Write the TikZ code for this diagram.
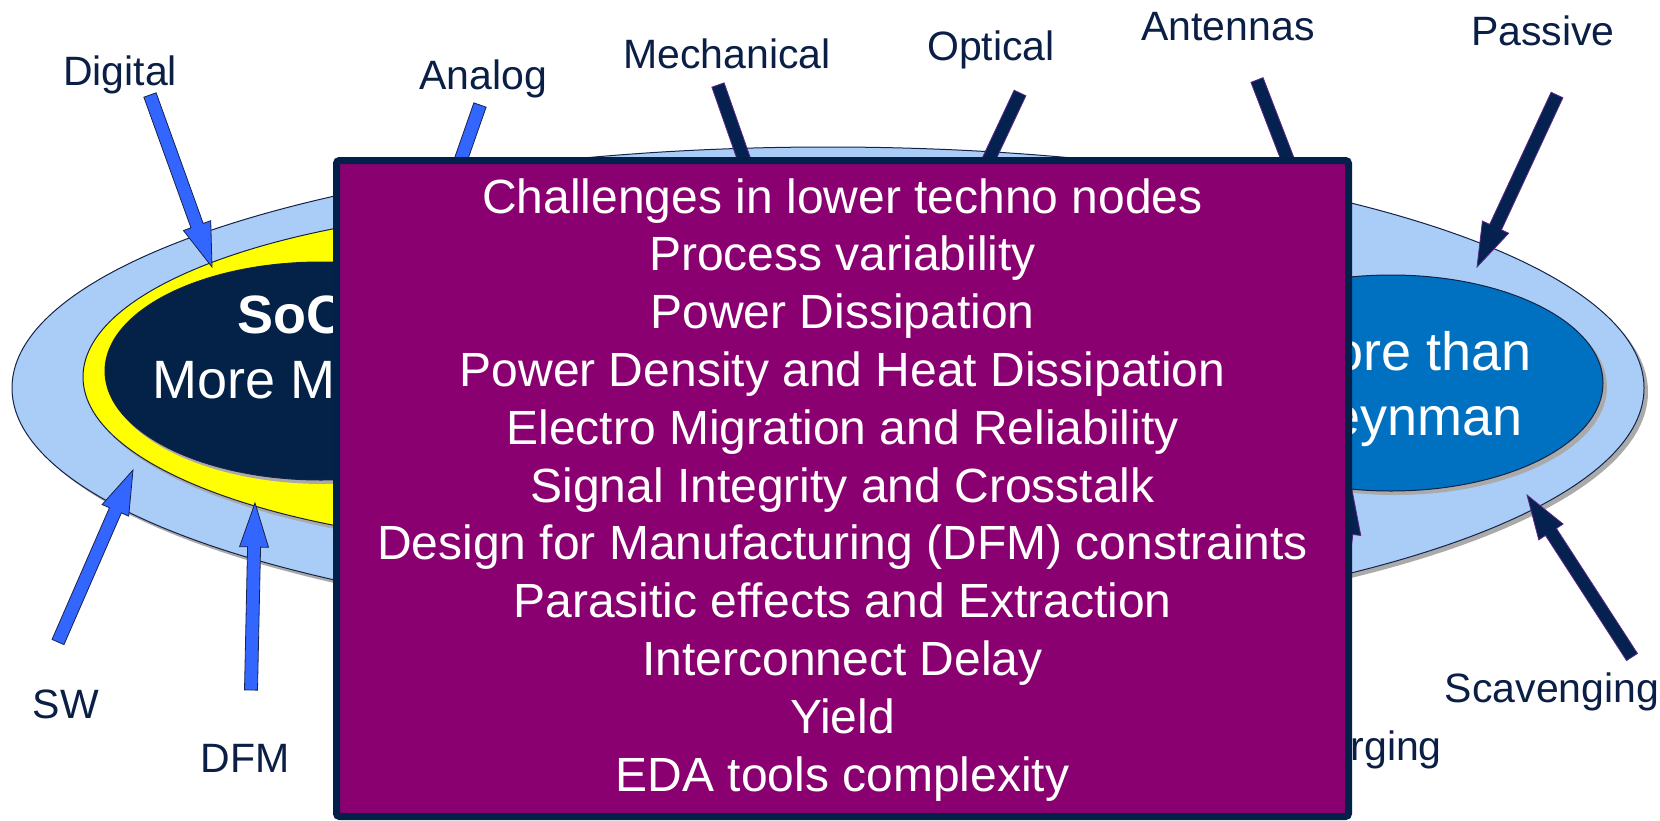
\documentclass[tikz,border=0pt]{standalone}
\usepackage{fontspec}
\setmainfont{Liberation Sans}
\usetikzlibrary{calc,shapes.geometric}
\definecolor{lightblue}{RGB}{170,205,248}
\definecolor{yellowc}{RGB}{255,255,0}
\definecolor{navyc}{RGB}{4,33,72}
\definecolor{midblue}{RGB}{0,112,192}
\definecolor{shadowcol}{RGB}{170,170,170}
\definecolor{edgecol}{RGB}{20,35,70}
\definecolor{boxpurple}{RGB}{139,0,112}
\definecolor{boxedge}{RGB}{2,32,72}
\definecolor{arrblue}{RGB}{51,102,255}
\definecolor{arredge}{RGB}{25,35,75}
\definecolor{arrnavy}{RGB}{4,33,80}
\definecolor{arrpurple}{RGB}{95,40,135}
\definecolor{lblcol}{RGB}{10,30,70}
% fat arrow: style, tail coordinate, tip coordinate
\newcommand\fatarr[3]{%
  \coordinate (#3b) at ($(#3)!44pt!(#2)$);
  \path[#1] ($(#2)!6.5pt!90:(#3)$) -- ($(#3b)!6.5pt!-90:(#2)$) -- ($(#3b)!14.5pt!-90:(#2)$)
    -- (#3) -- ($(#3b)!14.5pt!90:(#2)$) -- ($(#3b)!6.5pt!90:(#2)$) -- ($(#2)!6.5pt!-90:(#3)$) -- cycle;}
\begin{document}
\begin{tikzpicture}[x=1pt,y=-1pt,
  lbl/.style={font=\fontsize{41}{49}\selectfont, text=lblcol, inner sep=0, anchor=base},
  ell/.style={ellipse, draw=edgecol, line width=1pt, inner sep=0},
  barrow/.style={fill=arrblue, draw=arredge, line width=0.8pt},
  narrow/.style={fill=arrnavy, draw=arrpurple, line width=0.8pt},
  chalbox/.style={draw=boxedge, line width=7pt, fill=boxpurple, rounded corners=3pt, inner sep=0},
  boxtxt/.style={font=\fontsize{48}{58}\selectfont, text=white, inner sep=0, anchor=base},
  elltxt/.style={font=\fontsize{54}{65}\selectfont, text=white, inner sep=0}]
\useasboundingbox (0,0) rectangle (1660,820);

% ellipses
\fill[shadowcol] (832,392) ellipse [x radius=816, y radius=241];
\node[ell, fill=lightblue, minimum width=1632pt, minimum height=482pt] (outer) at (828,388) {};
\fill[shadowcol] (586,381) ellipse [x radius=500, y radius=171];
\node[ell, fill=yellowc, minimum width=1000pt, minimum height=342pt] (ring) at (583,377) {};
\fill[shadowcol] (324,375) ellipse [x radius=216, y radius=109];
\node[ell, fill=navyc, minimum width=432pt, minimum height=218pt] (soc) at (321,371) {};
\fill[shadowcol] (1395,387) ellipse [x radius=212, y radius=108];
\node[ell, fill=midblue, minimum width=424pt, minimum height=216pt] (mtm) at (1391,383) {};

\node[elltxt, anchor=base west] (soct) at (237,333) {\bfseries SoC};
\node[elltxt, anchor=base west] (mmt) at (152,398) {More Moore};
\node[elltxt, anchor=base east] (mtt) at (1532,370) {More than};
\node[elltxt, anchor=base east] (fyt) at (1523,435) {Feynman};

% labels
\node[lbl] (digital) at (120,85) {Digital};
\node[lbl] (analog) at (483,89) {Analog};
\node[lbl] (mech) at (727,68) {Mechanical};
\node[lbl] (optical) at (991,60) {Optical};
\node[lbl] (antennas) at (1228,40) {Antennas};
\node[lbl] (passive) at (1543,45) {Passive};
\node[lbl] (sw) at (66,718) {SW};
\node[lbl] (dfm) at (245,772) {DFM};
\node[lbl] (scav) at (1552,702) {Scavenging};
\node[lbl, anchor=base east] (charg) at (1442,760) {Charging};

% arrow end points
\coordinate (digT) at (150,95);   \coordinate (digH) at (212,267);
\coordinate (anaT) at (480,105);  \coordinate (anaH) at (445,205);
\coordinate (mecT) at (718,85);   \coordinate (mecH) at (760,205);
\coordinate (optT) at (1020,93);  \coordinate (optH) at (965,210);
\coordinate (antT) at (1257,80);  \coordinate (antH) at (1311,220);
\coordinate (pasT) at (1557,95);  \coordinate (pasH) at (1477,267);
\coordinate (swT) at (58,642);    \coordinate (swH) at (133,470);
\coordinate (dfmT) at (251,690);  \coordinate (dfmH) at (255,503);
\coordinate (scaT) at (1632,657); \coordinate (scaH) at (1527,495);
\coordinate (chaT) at (1325,700); \coordinate (chaH) at (1352,490);

\fatarr{barrow}{digT}{digH}
\fatarr{barrow}{anaT}{anaH}
\fatarr{barrow}{swT}{swH}
\fatarr{barrow}{dfmT}{dfmH}
\fatarr{narrow}{mecT}{mecH}
\fatarr{narrow}{optT}{optH}
\fatarr{narrow}{antT}{antH}
\fatarr{narrow}{pasT}{pasH}
\fatarr{narrow}{scaT}{scaH}
\fatarr{narrow}{chaT}{chaH}

% challenges box
\node[chalbox, minimum width=1012pt, minimum height=656pt] (chal) at (842.5,488.5) {};
\foreach \t [count=\i] in {Challenges in lower techno nodes, Process variability, Power Dissipation,
  Power Density and Heat Dissipation, Electro Migration and Reliability, Signal Integrity and Crosstalk,
  Design for Manufacturing (DFM) constraints, Parasitic effects and Extraction, Interconnect Delay,
  Yield, EDA tools complexity}
  \node[boxtxt] (line\i) at (842.5,{213+57.8*(\i-1)}) {\t};
\end{tikzpicture}
\end{document}
